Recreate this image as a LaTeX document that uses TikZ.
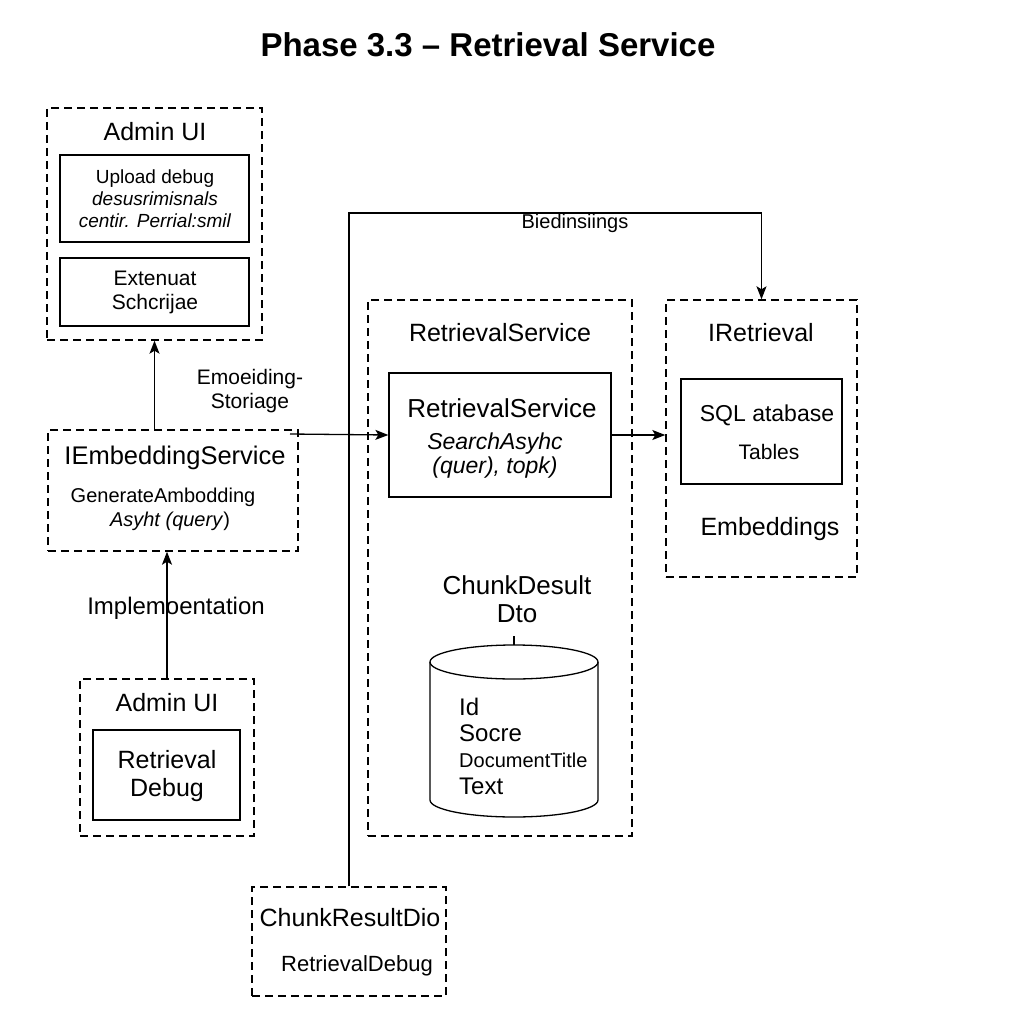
\documentclass[tikz,border=0pt]{standalone}
\usepackage{fontspec}
\setmainfont{Liberation Sans}
\usetikzlibrary{arrows.meta,positioning,calc}

\begin{document}
\begin{tikzpicture}[x=1pt,y=-1pt,
  outer/.style={draw,dash pattern=on 8pt off 5pt,line width=1.4pt,inner sep=0pt},
  inner/.style={draw,line width=1.3pt,inner sep=0pt},
  conn/.style={line width=1.3pt},
  arr/.style={conn,arrows={-Stealth[length=13pt,width=10pt,inset=3pt]}},
  txt/.style={inner sep=0pt,align=center,font=\fontsize{#1}{#1}\selectfont},
  txt/.default=25]
  \useasboundingbox[fill=white] (0,0) rectangle (1024,1024);

  \node[txt=33,font=\bfseries\fontsize{33}{36}\selectfont] (title) at (488,45) {Phase 3.3 -- Retrieval Service};

  % admin ui (top)
  \node[outer,minimum width=215,minimum height=232] (adminTop) at (154.5,224) {};
  \node[txt] (adminTopLbl) at (155,132) {Admin UI};
  \node[inner,minimum width=189,minimum height=87] (uploadBox) at (154.5,198.5) {};
  \node[txt=19,font=\fontsize{19}{22}\selectfont] (uploadTxt) at (155,199)
    {Upload debug\\\textit{desusrimisnals}\\\textit{centir. Perrial:smil}};
  \node[inner,minimum width=189,minimum height=68] (extBox) at (154.5,292) {};
  \node[txt=21,font=\fontsize{21}{24}\selectfont] (extTxt) at (155,292) {Extenuat\\Schcrijae};

  % embedding service
  \node[outer,minimum width=250,minimum height=121] (embSvc) at (173,490.5) {};
  \node[txt=25.5] (embSvcLbl) at (175,458) {IEmbeddingService};
  \node[txt=20] (embGen) at (163,497) {GenerateAmbodding};
  \node[txt=20] (embAsync) at (170,521) {\textit{Asyht (query})};
  \node[txt=21,font=\fontsize{21}{24}\selectfont] (embLbl) at (250,391) {Emoeiding-\\Storiage};

  % admin ui (bottom)
  \node[outer,minimum width=174,minimum height=157] (adminBot) at (167,757.5) {};
  \node[txt] (adminBotLbl) at (167,703) {Admin UI};
  \node[inner,minimum width=147,minimum height=90] (debugBox) at (166.5,775) {};
  \node[txt=25,font=\fontsize{25}{28}\selectfont] (debugTxt) at (167,776) {Retrieval\\Debug};
  \node[txt=24] (implLbl) at (176,608) {Implemoentation};

  % retrieval service
  \node[outer,minimum width=264,minimum height=536] (retOuter) at (500,568) {};
  \node[txt] (retOuterLbl) at (500,333) {RetrievalService};
  \node[inner,minimum width=222,minimum height=124] (retSvcBox) at (500,435) {};
  \node[txt=26] (retSvcLbl) at (502,408) {RetrievalService};
  \node[txt=23,font=\itshape\fontsize{23}{24}\selectfont] (retSearch) at (495,456) {SearchAsyhc\\(quer), topk)};
  \node[txt=26,font=\fontsize{26}{28}\selectfont] (dtoLbl) at (517,599) {ChunkDesult\\Dto};
  \coordinate (cylTop) at (514,662);
  \coordinate (cylBot) at (514,800);
  \draw[conn] (cylTop) ellipse [x radius=84pt,y radius=17pt];
  \draw[conn] ($(cylTop)+(-84,0)$) -- ($(cylBot)+(-84,0)$)
    arc[start angle=180,end angle=360,x radius=84pt,y radius=17pt] -- ($(cylTop)+(84,0)$);
  \node[txt=24,anchor=west] (fId) at (459,707) {Id};
  \node[txt=24,anchor=west] (fScore) at (459,733) {Socre};
  \node[txt=20,anchor=west] (fTitle) at (459,760) {DocumentTitle};
  \node[txt=24,anchor=west] (fText) at (459,786) {Text};

  % iretrieval
  \node[outer,minimum width=191,minimum height=277] (iRet) at (761.5,438.5) {};
  \node[txt] (iRetLbl) at (761,333) {IRetrieval};
  \node[inner,minimum width=161,minimum height=105] (sqlBox) at (761.5,431.5) {};
  \node[txt=23] (sqlLbl) at (767,415) {SQL atabase};
  \node[txt=21] (tablesLbl) at (769,452) {Tables};
  \node[txt] (embedsLbl) at (770,529) {Embeddings};

  % chunk result dto
  \node[outer,minimum width=194,minimum height=109] (chunkDio) at (349,941.5) {};
  \node[txt] (chunkLbl) at (350,918) {ChunkResultDio};
  \node[txt=22] (chunkDbg) at (357,966) {RetrievalDebug};

  % connectors
  \coordinate (embOut) at (290,434);
  \coordinate (bindTop) at (575,213);
  \draw[arr] (adminTop.south |- embSvc.north) -- (adminTop.south);
  \draw[arr] (adminBot.north) -- (adminBot.north |- embSvc.south);
  \draw[arr] (embOut) -- (retSvcBox.west);
  \draw[arr] (retSvcBox.east) -- (retSvcBox.east -| iRet.west);
  \draw[arr] (chunkDio.north) |- (bindTop) -| (iRet.north);
  \node[txt=20] (bindLbl) at (575,223) {Biedinsiings};
  \draw[conn] ($(cylTop)+(0,-17)$) -- ++(0,-9);
\end{tikzpicture}
\end{document}
